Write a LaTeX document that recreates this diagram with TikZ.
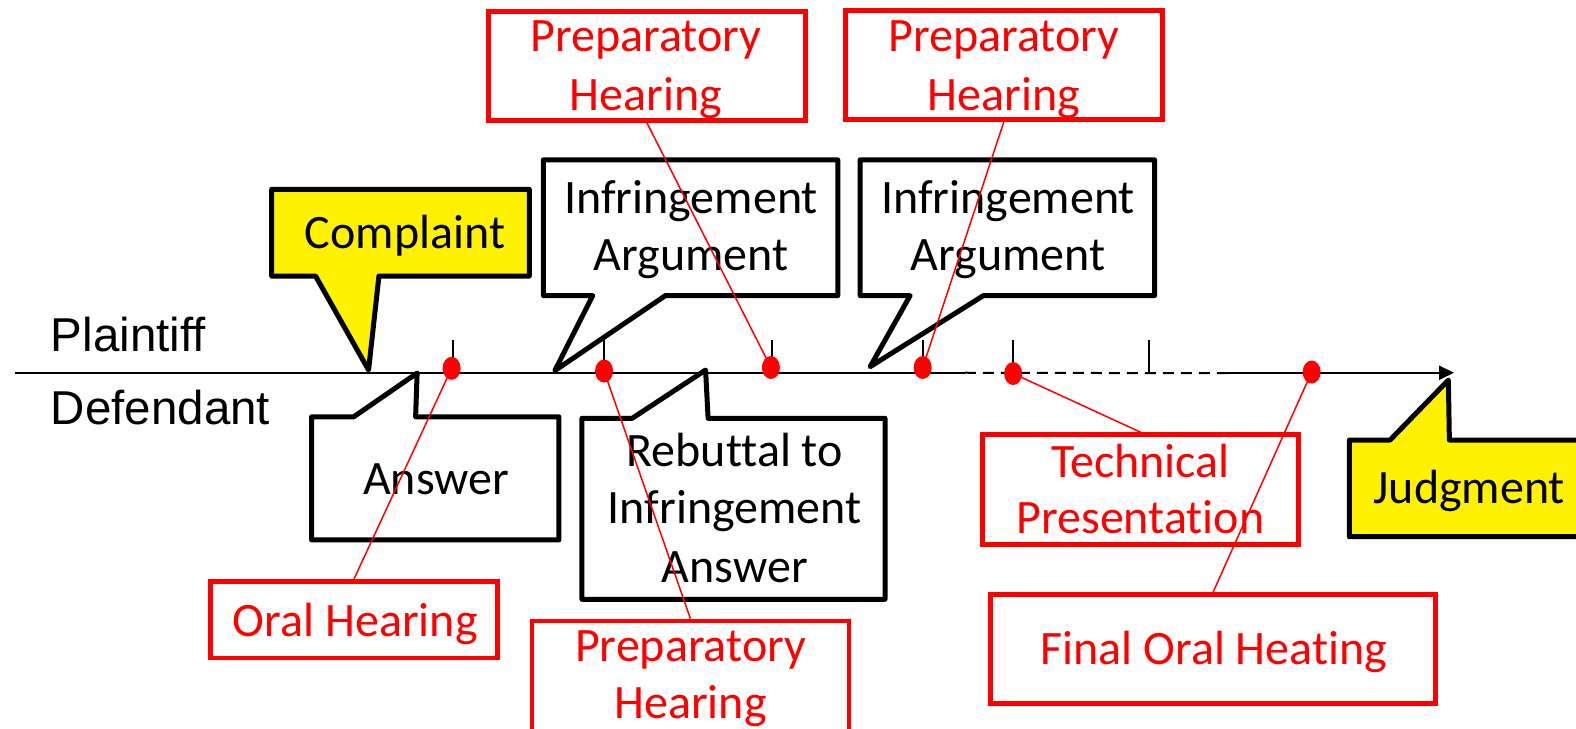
\documentclass[tikz,border=0pt]{standalone}
\usepackage{fontspec}
\setmainfont{Carlito}[Ligatures={NoCommon}]
\newfontfamily\arialfont{Liberation Sans}
\usetikzlibrary{arrows.meta,shapes.geometric}
\begin{document}
\begin{tikzpicture}[x=1.0051pt,y=-1.0055pt,
  txt/.style={inner sep=0pt,anchor=base,font=\fontsize{48}{57}\selectfont},
  redtxt/.style={txt,text=red},
  sidetxt/.style={inner sep=0pt,anchor=base west,font=\fontsize{47.5}{56}\arialfont},
  callout/.style={line width=5pt,line join=round,draw=black},
  redbox/.style={draw=red,line width=4.8pt,inner sep=0pt},
  redlink/.style={draw=red,line width=1.5pt},
  reddot/.style={ellipse,fill=red,inner sep=0pt,minimum width=18pt,minimum height=23pt},
  tickmark/.style={line width=2pt},
  axis/.style={line width=2pt}]
\useasboundingbox (0,0) rectangle (1568,725);

% --- callouts (speech bubbles) ---
\draw[callout,fill=yellow] (270.3,188.3) -- (526.6,188.3) -- (526.6,274.6) -- (377,274.6)
  -- (366.7,368) -- (314,274.6) -- (270.3,274.6) -- cycle;
\draw[callout,fill=white] (540.6,159) -- (833.5,159) -- (833.5,294) -- (662,294)
  -- (552,368.6) -- (589.7,294) -- (540.6,294) -- cycle;
\draw[callout,fill=white] (855.7,159) -- (1148.7,159) -- (1148.7,294) -- (978.4,294)
  -- (865.7,364.7) -- (905.5,294) -- (855.7,294) -- cycle;
\draw[callout,fill=white] (310,414.5) -- (352,414.5) -- (415,371) -- (413.5,414.5)
  -- (556,414.5) -- (556,537) -- (310,537) -- cycle;
\draw[callout,fill=white] (579,416) -- (629,416) -- (702,368) -- (704.5,416)
  -- (880.5,416) -- (880.5,596) -- (579,596) -- cycle;
\draw[callout,fill=yellow] (1342.5,437.6) -- (1383,437.6) -- (1441,378) -- (1442,437.6)
  -- (1600,437.6) -- (1600,533.8) -- (1342.5,533.8) -- cycle;

% --- callout texts ---
\node[txt] (complaint) at (403,247) {Complaint};
\node[txt] (ia1a) at (687.5,212) {Infringement};
\node[txt] (ia1b) at (687.5,269) {Argument};
\node[txt] (ia2a) at (1003,212) {Infringement};
\node[txt] (ia2b) at (1003,269) {Argument};
\node[txt] (answer) at (434,492) {Answer};
\node[txt] (reb1) at (731,464) {Rebuttal to};
\node[txt] (reb2) at (731,521) {Infringement};
\node[txt] (reb3) at (731,579) {Answer};
\node[txt,anchor=base west] (judgment) at (1366.4,500.6) {Judgment};

% --- side labels ---
\node[sidetxt] (plaintiff) at (50.5,350) {Plaintiff};
\node[sidetxt] (defendant) at (50.5,421.7) {Defendant};

% --- red boxes ---
\node[redbox,minimum width=317pt,minimum height=109pt] (ph1) at (643.5,65.3) {};
\node[redbox,minimum width=317pt,minimum height=109pt] (ph2) at (998.8,64.4) {};
\node[redbox,minimum width=287pt,minimum height=76pt] (oral) at (352,616.5) {};
\node[redbox,minimum width=317pt,minimum height=114pt] (pb) at (686.9,674.3) {};
\node[redbox,minimum width=316pt,minimum height=110pt] (tech) at (1134.9,487) {};
\node[redbox,minimum width=445pt,minimum height=109pt] (final) at (1207,645.4) {};

\node[redtxt] (ph1a) at (642.4,51.4) {Preparatory};
\node[redtxt] (ph1b) at (642.4,109.4) {Hearing};
\node[redtxt] (ph2a) at (998.7,51.4) {Preparatory};
\node[redtxt] (ph2b) at (998.7,109.4) {Hearing};
\node[redtxt] (oralt) at (353.5,633) {Oral Hearing};
\node[redtxt] (pba) at (687,658) {Preparatory};
\node[redtxt] (pbb) at (687,714.5) {Hearing};
\node[redtxt] (techa) at (1134.6,475) {Technical};
\node[redtxt] (techb) at (1134.6,531) {Presentation};
\node[redtxt] (finalt) at (1207.7,661) {Final Oral Heating};

% --- timeline ---
\coordinate (t0) at (14.5,370.7);
\coordinate (t1) at (960,370.7);
\coordinate (t2) at (1222,371.2);
\coordinate (t3) at (1218,370.7);
\coordinate (tend) at (1446.6,370.7);
\draw[axis] (t0) -- (t1);
\draw[axis,dash pattern=on 11pt off 7pt] (t1) -- (t2);
\draw[axis,-{Triangle[length=15pt,width=14pt]}] (t3) -- (tend);

% --- ticks ---
\draw[tickmark] (450.4,338) -- (450.4,362);
\draw[tickmark] (601,338) -- (601,370);
\draw[tickmark] (768,338) -- (768,370);
\draw[tickmark] (918,338) -- (918,362);
\draw[tickmark] (1008,338) -- (1008,362);
\draw[tickmark] (1143,338) -- (1143,370);

% --- red dots ---
\node[reddot] (d1) at (449.3,366.3) {};
\node[reddot] (d2) at (601,369) {};
\node[reddot] (d3) at (767,365.5) {};
\node[reddot] (d4) at (918,365.5) {};
\node[reddot] (d5) at (1008,371.5) {};
\node[reddot] (d6) at (1305,370) {};

% --- red connectors ---
\draw[redlink] (d1.center) -- (oral.north);
\draw[redlink] (d2.center) -- (pb.north);
\draw[redlink] (d3.center) -- (ph1.south);
\draw[redlink] (d4.center) -- (ph2.south);
\draw[redlink] (d5.center) -- (tech.north);
\draw[redlink] (d6.center) -- (final.north);
\end{tikzpicture}
\end{document}
